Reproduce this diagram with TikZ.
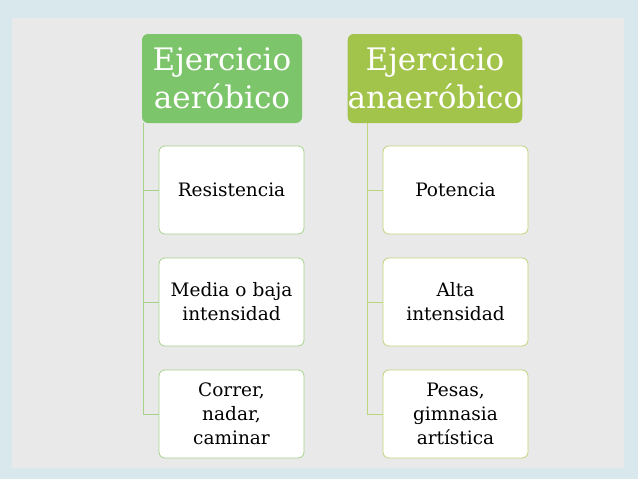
\documentclass[tikz,border=0pt]{standalone}
\usepackage{fontspec}
\setmainfont{DejaVu Serif}
\begin{document}
\begin{tikzpicture}[x=1pt,y=-1pt,
  hdr/.style={rounded corners=6pt,minimum width=#1,minimum height=89pt,align=center,text=white,font=\fontsize{31}{38}\selectfont,inner sep=0pt},
  kid/.style={rounded corners=6pt,fill=white,draw=#1,line width=0.8pt,minimum width=145pt,minimum height=88pt,align=center,text width=144pt,font=\fontsize{18.5}{24}\selectfont,inner sep=0pt},
  con/.style={draw=#1,line width=1pt}]
\definecolor{bgout}{HTML}{D9E8EC}
\definecolor{bgin}{HTML}{E9E9E9}
\definecolor{gA}{HTML}{7CC56A}
\definecolor{gB}{HTML}{A3C44B}
\definecolor{lA}{HTML}{A6D28C}
\definecolor{lB}{HTML}{BFD57A}
\fill[bgout] (0,0) rectangle (638,479);
\fill[bgin] (12,18) rectangle (624,468);
\useasboundingbox (0,0) rectangle (638,479);
\node[hdr=160pt,fill=gA] (h1) at (222,78.5) {Ejercicio\\aeróbico};
\node[hdr=172pt,fill=gB] (h2) at (435,78.5) {Ejercicio\\anaeróbico};
\node[kid=lA] (a1) at (231.5,190) {Resistencia};
\node[kid=lA] (a2) at (231.5,302) {Media o baja\\intensidad};
\node[kid=lA] (a3) at (231.5,414) {Correr,\\nadar,\\caminar};
\node[kid=lB] (b1) at (455.5,190) {Potencia};
\node[kid=lB] (b2) at (455.5,302) {Alta\\intensidad};
\node[kid=lB] (b3) at (455.5,414) {Pesas,\\gimnasia\\artística};
\coordinate (t1) at (143,123);
\coordinate (t2) at (367,123);
\draw[con=lA] (t1) |- (a1.west);
\draw[con=lA] (t1) |- (a2.west);
\draw[con=lA] (t1) |- (a3.west);
\draw[con=lB] (t2) |- (b1.west);
\draw[con=lB] (t2) |- (b2.west);
\draw[con=lB] (t2) |- (b3.west);
\end{tikzpicture}
\end{document}
